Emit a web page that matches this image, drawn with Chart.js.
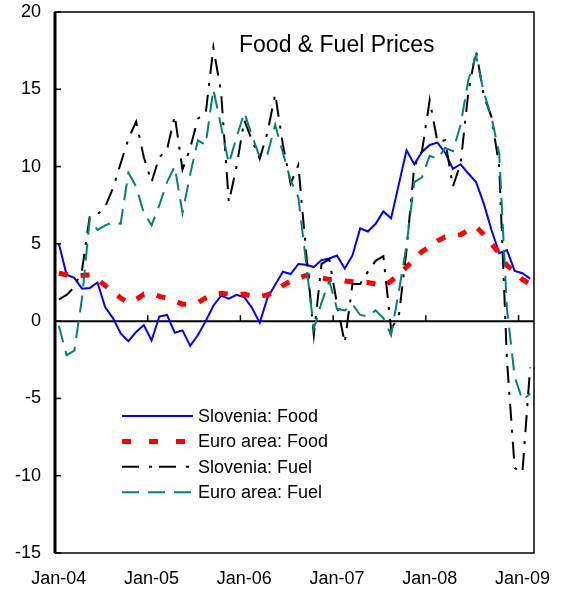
<!DOCTYPE html>
<html>
<head>
<meta charset="utf-8">
<script src="https://cdn.jsdelivr.net/npm/chart.js@4.4.1/dist/chart.umd.min.js"></script>
<style>
  html, body { margin: 0; padding: 0; background: #fff; }
  canvas { display: block; }
</style>
</head>
<body>
<canvas id="chart" width="564" height="595"></canvas>
<script>
// months Jan-04 .. Feb-09
const monthNames = ['Jan','Feb','Mar','Apr','May','Jun','Jul','Aug','Sep','Oct','Nov','Dec'];
const years = ['04','05','06','07','08','09'];
const labels = [];
years.forEach(y => monthNames.forEach(m => labels.push(m + '-' + y)));
labels.length = 62;

const yTicks = [-15, -10, -5, 0, 5, 10, 15, 20];

// year-on-year % change
const sloveniaFood = [5.0, 3.0, 2.8, 2.1, 2.15, 2.5, 0.9, 0.2, -0.8, -1.3, -0.7, -0.25,
  -1.25, 0.3, 0.4, -0.75, -0.6, -1.6, -0.9, 0.0, 1.0, 1.65, 1.45, 1.7,
  1.55, 0.85, -0.1, 1.5, 2.35, 3.2, 3.05, 3.7, 3.65, 3.5, 3.95, 4.05,
  4.25, 3.4, 4.25, 6.0, 5.8, 6.3, 7.1, 6.65, 8.85, 11.05, 10.15, 10.95,
  11.4, 11.55, 10.9, 9.85, 10.15, 9.55, 9.0, 7.6, 5.9, 4.4, 4.6, 3.25,
  3.1, 2.75];
const euroFood = [3.1, 3.0, 2.9, 2.95, 3.0, 2.7, 2.3, 1.9, 1.5, 1.2, 1.4, 1.75,
  1.8, 1.6, 1.5, 1.3, 1.1, 1.1, 1.2, 1.5, 1.75, 1.8, 1.75, 1.7,
  1.75, 1.6, 1.6, 1.7, 1.9, 2.3, 2.6, 2.8, 2.95, 2.9, 2.8, 2.7,
  2.7, 2.6, 2.55, 2.5, 2.5, 2.4, 2.25, 2.6, 3.0, 3.5, 4.0, 4.5,
  4.8, 5.2, 5.45, 5.5, 5.6, 5.9, 6.1, 5.6, 5.0, 4.4, 3.6, 3.2,
  2.7, 2.4];
const sloveniaFuel = [1.4, 1.7, 2.2, 3.3, 6.8, 6.9, 7.4, 8.6, 10.2, 11.8, 12.9, 10.6,
  9.0, 10.6, 11.1, 13.3, 9.8, 11.2, 13.1, 13.4, 17.7, 14.8, 7.7, 10.0,
  13.0, 11.7, 10.5, 12.2, 14.7, 11.4, 8.9, 10.1, 4.5, -0.9, 3.7, 4.0,
  1.1, -1.4, 2.4, 2.4, 3.2, 3.9, 4.2, -0.5, 0.3, 4.6, 10.0, 11.0,
  14.3, 11.6, 11.7, 8.7, 10.2, 14.8, 17.5, 14.6, 13.2, 10.0, -2.5, -9.5,
  -9.8, -3.0];
const euroFuel = [-0.3, -2.2, -1.9, 1.5, 6.6, 5.9, 6.2, 6.4, 6.3, 9.6, 8.7, 7.0,
  6.2, 7.5, 9.0, 10.0, 7.0, 9.5, 11.7, 11.4, 15.0, 12.6, 10.2, 11.9,
  13.5, 12.0, 10.6, 10.8, 12.7, 10.9, 9.1, 8.0, 3.8, -0.5, 1.2, 2.6,
  0.8, 0.7, 1.1, 0.4, 0.3, 0.7, 0.2, -0.9, 1.9, 4.9, 9.0, 9.3,
  10.7, 10.5, 11.2, 11.0, 12.7, 15.6, 17.2, 14.8, 13.2, 10.8, 0.8, -3.6,
  -5.1, -4.7];

const FONT = "'Liberation Sans', Arial, sans-serif";

// legend sample dash patterns (a bit longer than in the plot)
const legendDash = [[], [9, 18], [17, 10, 3, 7], [17, 9]];

const framePlugin = {
  id: 'frame',
  beforeDatasetsDraw(chart) {
    const { ctx, chartArea: a, scales: { x, y } } = chart;
    const y0 = y.getPixelForValue(0);
    ctx.save();
    ctx.strokeStyle = '#000';
    ctx.lineWidth = 2;
    ctx.beginPath();
    ctx.moveTo(a.left, y0);
    ctx.lineTo(a.right, y0);
    ctx.stroke();
    // year ticks on the zero line, between Dec and Jan
    ctx.lineWidth = 1.5;
    labels.forEach((lab, i) => {
      if (i > 0 && i % 12 === 0) {
        const px = (x.getPixelForValue(i - 1) + x.getPixelForValue(i)) / 2;
        ctx.beginPath();
        ctx.moveTo(px, y0);
        ctx.lineTo(px, y0 - 6);
        ctx.stroke();
      }
    });
    ctx.restore();
  },
  afterDatasetsDraw(chart) {
    const { ctx, chartArea: a, scales: { y } } = chart;
    ctx.save();
    ctx.strokeStyle = '#000';
    ctx.setLineDash([]);
    ctx.lineWidth = 1.5;
    ctx.strokeRect(a.left, a.top, a.right - a.left, a.bottom - a.top);
    ctx.lineWidth = 3;
    ctx.beginPath();
    ctx.moveTo(a.left, a.top);
    ctx.lineTo(a.left, a.bottom);
    ctx.stroke();
    // inward y ticks
    ctx.lineWidth = 1.5;
    yTicks.forEach(v => {
      const py = y.getPixelForValue(v);
      ctx.beginPath();
      ctx.moveTo(a.left, py);
      ctx.lineTo(a.left + 6, py);
      ctx.stroke();
    });

    // title inside the plot
    ctx.fillStyle = '#000';
    ctx.font = '23px ' + FONT;
    ctx.textAlign = 'left';
    ctx.textBaseline = 'alphabetic';
    ctx.fillText('Food & Fuel Prices', a.left + 184, a.top + 40);

    // legend
    ctx.font = '18px ' + FONT;
    ctx.textBaseline = 'middle';
    chart.data.datasets.forEach((ds, i) => {
      const ly = a.top + 404 + i * 25.4;
      ctx.strokeStyle = ds.borderColor;
      ctx.lineWidth = ds.borderWidth;
      ctx.lineCap = 'butt';
      ctx.setLineDash(legendDash[i]);
      ctx.beginPath();
      ctx.moveTo(a.left + 67, ly);
      ctx.lineTo(a.left + 138, ly);
      ctx.stroke();
      ctx.setLineDash([]);
      ctx.fillText(ds.label, a.left + 143, ly + 1);
    });
    ctx.restore();
  }
};

new Chart(document.getElementById('chart'), {
  type: 'line',
  data: {
    labels: labels,
    datasets: [
      { label: 'Slovenia: Food', data: sloveniaFood, borderColor: '#0000FF', borderWidth: 2, order: 4 },
      { label: 'Euro area: Food', data: euroFood, borderColor: '#FF0000', borderWidth: 5, borderDash: [9, 13], order: 3 },
      { label: 'Slovenia: Fuel', data: sloveniaFuel, borderColor: '#000000', borderWidth: 2, borderDash: [17, 9, 3, 9], order: 2 },
      { label: 'Euro area: Fuel', data: euroFuel, borderColor: '#008080', borderWidth: 2, borderDash: [17, 9], order: 1 }
    ]
  },
  options: {
    responsive: false,
    animation: false,
    devicePixelRatio: 1,
    layout: { padding: { top: 12, right: 30, left: 0, bottom: 0 } },
    elements: {
      point: { radius: 0 },
      line: { tension: 0, borderCapStyle: 'butt', fill: false }
    },
    plugins: {
      legend: { display: false },
      tooltip: { enabled: false },
      title: { display: false }
    },
    scales: {
      x: {
        offset: true,
        grid: { display: false, drawTicks: false },
        border: { display: false },
        ticks: {
          autoSkip: false,
          maxRotation: 0,
          padding: 15,
          color: '#000',
          font: { family: FONT, size: 18 },
          callback: (v, i) => (i % 12 === 0 ? labels[i] : '')
        },
        afterFit: s => {
          s.height = 42;
          s.paddingLeft = 0;
          s.paddingRight = 0;
        }
      },
      y: {
        min: -15,
        max: 20,
        grid: { display: false, drawTicks: false },
        border: { display: false },
        ticks: {
          padding: 14,
          color: '#000',
          font: { family: FONT, size: 18 }
        },
        afterBuildTicks: s => { s.ticks = yTicks.map(v => ({ value: v })); },
        afterFit: s => {
          s.width = 55;
          s.paddingTop = 0;
          s.paddingBottom = 0;
        }
      }
    }
  },
  plugins: [framePlugin]
});
</script>
</body>
</html>
